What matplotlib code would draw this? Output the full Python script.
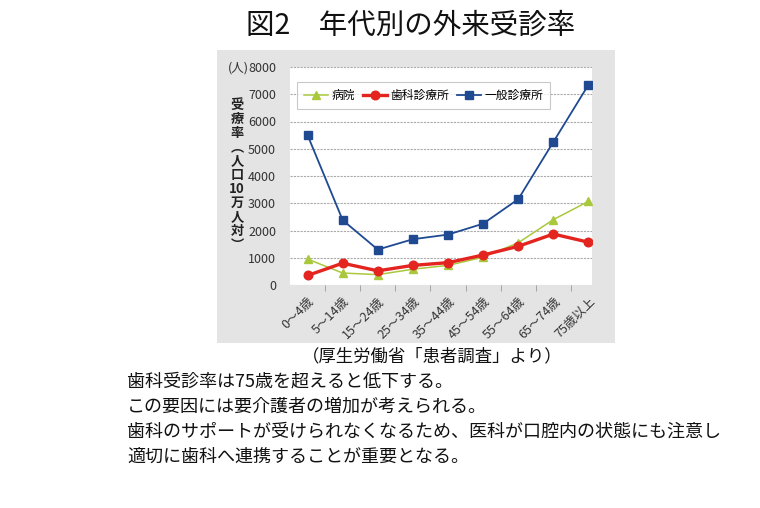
import matplotlib
matplotlib.use("Agg")
import matplotlib.pyplot as plt
from matplotlib.patches import Rectangle

plt.rcParams["font.family"] = ["Noto Sans CJK JP", "DejaVu Sans"]

ages = ["0〜4歳", "5〜14歳", "15〜24歳", "25〜34歳", "35〜44歳",
        "45〜54歳", "55〜64歳", "65〜74歳", "75歳以上"]
hospital = [950, 440, 380, 580, 720, 1020, 1550, 2400, 3070]
dental = [350, 800, 520, 720, 820, 1100, 1420, 1870, 1570]
clinic = [5500, 2380, 1300, 1680, 1850, 2250, 3150, 5250, 7350]
yticks = [0, 1000, 2000, 3000, 4000, 5000, 6000, 7000, 8000]

body_lines = [
    "歯科受診率は75歳を超えると低下する。",
    "この要因には要介護者の増加が考えられる。",
    "歯科のサポートが受けられなくなるため、医科が口腔内の状態にも注意し",
    "適切に歯科へ連携することが重要となる。",
]

W, H = 760, 508
fig = plt.figure(figsize=(W / 100, H / 100), dpi=100)
fig.patch.set_facecolor("white")

# gray panel behind the chart
fig.patches.append(Rectangle((217 / W, 1 - 343 / H), (615 - 217) / W, (343 - 50) / H,
                             transform=fig.transFigure, facecolor="#e4e4e4",
                             edgecolor="none", zorder=-1))

ax = fig.add_axes([290 / W, 1 - 285 / H, (592 - 290) / W, (285 - 67) / H])
ax.set_facecolor("white")
x = list(range(len(ages)))

ax.plot(x, hospital, color="#a9c83c", lw=1.1, marker="^", ms=5.5,
        label="病院", zorder=3)
ax.plot(x, dental, color="#e3241f", lw=2.4, marker="o", ms=6.2,
        label="歯科診療所", zorder=4)
ax.plot(x, clinic, color="#1f4a92", lw=1.3, marker="s", ms=5.5,
        label="一般診療所", zorder=5)

ax.set_xlim(-0.5, 8.1)
ax.set_ylim(0, 8000)
ax.set_yticks(yticks)
ax.set_yticklabels([str(v) for v in yticks], fontsize=9, color="#333333")
ax.tick_params(axis="y", length=0, pad=10)
ax.grid(axis="y", color="#aaaaaa", lw=0.8, ls=(0, (2, 1)))
ax.set_axisbelow(True)

ax.set_xticks(x)
ax.set_xticklabels(ages, rotation=45, ha="right", va="top", fontsize=9,
                   color="#333333", rotation_mode="anchor")
ax.tick_params(axis="x", length=0, pad=7)
ax.set_xticks([i + 0.5 for i in range(8)], minor=True)
ax.tick_params(axis="x", which="minor", length=4, color="#999999", direction="out")
for s in ax.spines.values():
    s.set_visible(False)

leg = ax.legend(loc="upper left", bbox_to_anchor=(7 / 302, 1 - 15 / 218), ncol=3,
                fontsize=8.5, frameon=True, fancybox=False, edgecolor="#bbbbbb",
                handlelength=2.0, columnspacing=0.7, handletextpad=0.3,
                borderpad=0.6, borderaxespad=0)
leg.get_frame().set_linewidth(0.8)

fig.text(238 / W, 1 - 68 / H, "(人)", fontsize=9, color="#333333",
         ha="center", va="center")
fig.text(237 / W, 1 - 175 / H, "受\n療\n率\n︵\n人\n口\n10\n万\n人\n対\n︶",
         fontsize=9.5, fontweight="bold", color="#222222", ha="center",
         va="center", linespacing=1.0)

fig.text(411 / W, 1 - 26 / H, "図2　年代別の外来受診率", fontsize=20.5,
         ha="center", va="center", color="#111111")
fig.text(432 / W, 1 - 356 / H, "（厚生労働省「患者調査」より）", fontsize=12.5,
         ha="center", va="center", color="#111111")
for i, line in enumerate(body_lines):
    fig.text(127 / W, 1 - (382 + i * 24.8) / H, line, fontsize=13,
             ha="left", va="center", color="#111111")

fig.savefig("out.png", dpi=100)
